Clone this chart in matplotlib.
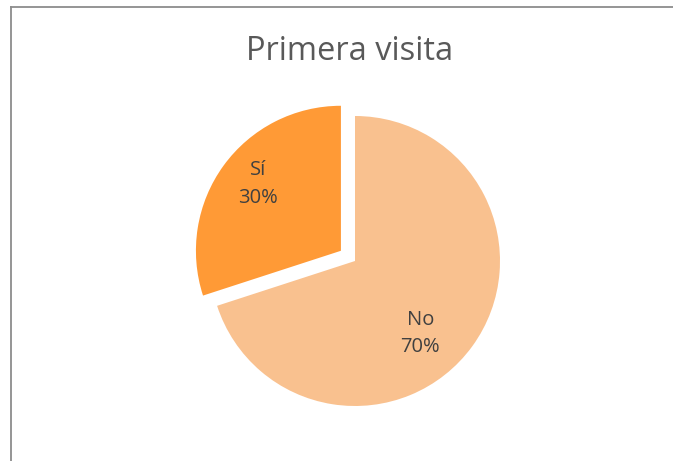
import matplotlib.pyplot as plt
import numpy as np
from matplotlib.lines import Line2D

# Data
categories = ['No', 'Sí']
values = [70, 30]
colors = ['#F9C18F', '#FF9A36']
explode = [0, 0.12]

W, H = 673, 461
fig = plt.figure(figsize=(W / 100, H / 100), dpi=100)
fig.patch.set_facecolor('white')

# pie center (355, 261) px, radius 145 px
r = 145
cx, cy = 355, 261
ax = fig.add_axes([(cx - r) / W, (H - cy - r) / H, 2 * r / W, 2 * r / H])
wedges, _ = ax.pie(values, colors=colors, explode=explode, startangle=90,
                   counterclock=False, radius=1,
                   wedgeprops=dict(linewidth=0))
ax.set_xlim(-1, 1)
ax.set_ylim(-1, 1)
ax.set_aspect('equal')
ax.axis('off')

# labels
label_pos = [(0.45, -0.5), (-0.67, 0.53)]
for cat, v, (lx, ly) in zip(categories, values, label_pos):
    ax.text(lx, ly, f'{cat}\n{v}%', ha='center', va='center', fontsize=14.5,
            color='#404040', family='Open Sans', linespacing=1.5)

fig.text(350 / W, 1 - 52 / H, 'Primera visita', ha='center', va='center',
         fontsize=23.5, color='#595959', family='Open Sans')

# chart border (top and left only visible)
fig.add_artist(Line2D([10.5 / W, 1], [1 - 7.5 / H, 1 - 7.5 / H],
                      transform=fig.transFigure, color='#8C8C8C', lw=1.3))
fig.add_artist(Line2D([10.5 / W, 10.5 / W], [0, 1 - 7.5 / H],
                      transform=fig.transFigure, color='#8C8C8C', lw=1.3))

fig.savefig('out.png', dpi=100)
